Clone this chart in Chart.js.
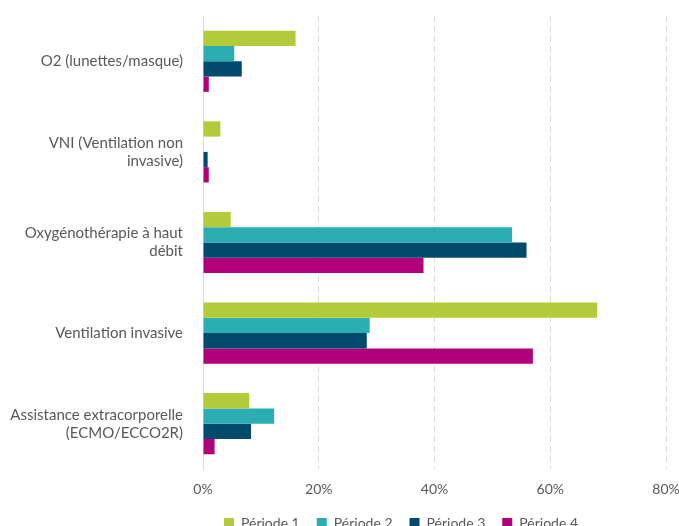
<!DOCTYPE html>
<html>
<head>
<meta charset="utf-8">
<script src="https://cdn.jsdelivr.net/npm/chart.js@4/dist/chart.umd.min.js"></script>
<style>
  html, body { margin: 0; padding: 0; background: #fff; overflow: hidden; }
  #wrap { position: relative; width: 679px; height: 526px; }
</style>
</head>
<body>
<div id="wrap"><canvas id="c"></canvas></div>
<script>
// Categories (multi-line labels as arrays)
const categories = [
  ['O2 (lunettes/masque)'],
  ['VNI (Ventilation non', 'invasive)'],
  ['Oxygénothérapie à haut', 'débit'],
  ['Ventilation invasive'],
  ['Assistance extracorporelle', '(ECMO/ECCO2R)']
];

// Share of patients (%) per period
const periode1 = [16, 3, 4.8, 68.1, 8];
const periode2 = [5.4, 0, 53.4, 28.8, 12.3];
const periode3 = [6.7, 0.8, 55.9, 28.3, 8.3];
const periode4 = [1, 1, 38.1, 57, 2];

const seriesNames = ['Période 1', 'Période 2', 'Période 3', 'Période 4'];
const seriesColors = ['#B3CB3B', '#2CADB3', '#004A6E', '#B0007A'];

const xTicks = [0, 20, 40, 60, 80];

const textColor = '#595959';
const fontFamily = 'Lato, "Open Sans", sans-serif';

// Moves the legend block to where it sits in the layout
const legendShift = {
  id: 'legendShift',
  afterUpdate(chart) {
    const lg = chart.legend;
    if (!lg) return;
    const dx = 68, dy = -7;
    lg.left += dx; lg.right += dx;
    lg.top += dy;
    lg.bottom = chart.height + 20;
    if (lg.adjustHitBoxes) lg.adjustHitBoxes();
  }
};

const data = {
  labels: categories,
  datasets: [periode1, periode2, periode3, periode4].map((vals, i) => ({
    label: seriesNames[i],
    data: vals,
    backgroundColor: seriesColors[i],
    borderWidth: 0,
    categoryPercentage: 0.675,
    barPercentage: 1.0
  }))
};

new Chart(document.getElementById('c'), {
  type: 'bar',
  data,
  plugins: [legendShift],
  options: {
    indexAxis: 'y',
    responsive: true,
    maintainAspectRatio: false,
    animation: false,
    layout: { padding: { top: 16, right: 13, left: 0, bottom: 0 } },
    plugins: {
      legend: {
        position: 'bottom',
        maxHeight: 20,
        labels: {
          boxWidth: 10,
          boxHeight: 10,
          padding: 17,
          color: textColor,
          font: { family: fontFamily, size: 14 }
        }
      },
      tooltip: { enabled: false }
    },
    scales: {
      x: {
        min: 0,
        max: 80,
        afterBuildTicks(scale) {
          scale.ticks = xTicks.map(v => ({ value: v }));
        },
        afterFit(scale) {
          scale.height = 37;
          scale.paddingLeft = 0; scale.paddingRight = 0;
        },
        ticks: {
          color: textColor,
          font: { family: fontFamily, size: 14 },
          padding: 12,
          callback: v => v + '%'
        },
        grid: {
          color: '#D9D9D9',
          lineWidth: 1,
          drawTicks: false
        },
        border: { display: false, dash: [6, 4] }
      },
      y: {
        afterFit(scale) {
          scale.width = 203;
          scale.paddingTop = 0; scale.paddingBottom = 0;
        },
        ticks: {
          color: textColor,
          font: { family: fontFamily, size: 15 },
          padding: 20
        },
        grid: { display: false, drawTicks: false },
        border: { display: true, color: '#D9D9D9', width: 1 }
      }
    }
  }
});
</script>
</body>
</html>
